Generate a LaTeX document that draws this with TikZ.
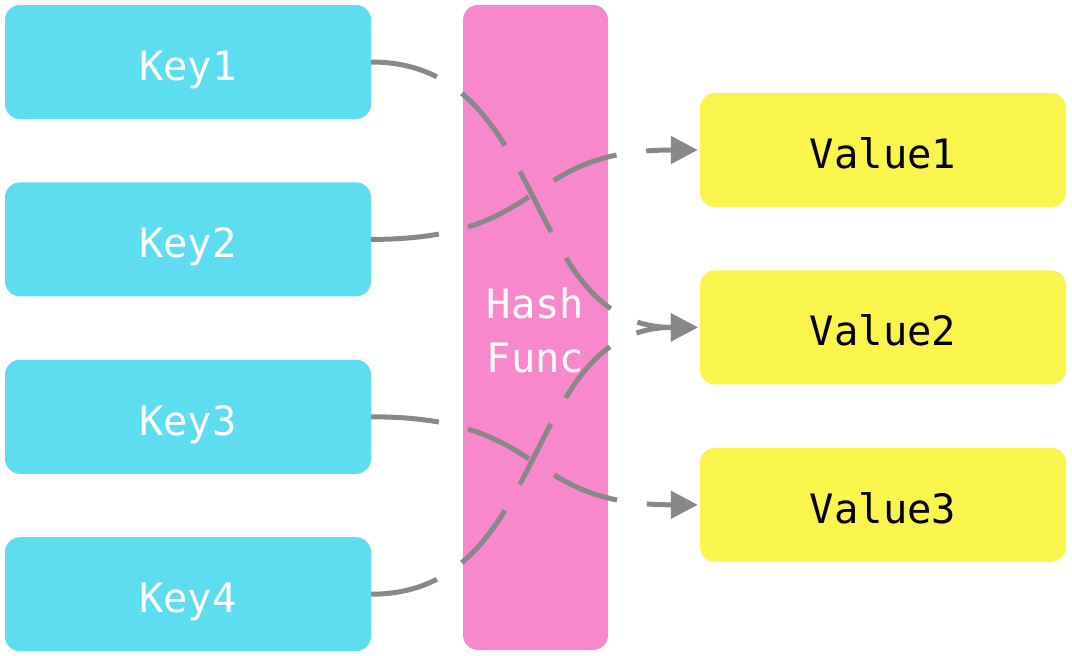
\documentclass[tikz,border=0pt]{standalone}
\usepackage{fontspec}
\setmonofont{DejaVu Sans Mono}
\usetikzlibrary{arrows.meta,positioning}

\definecolor{keycyan}{RGB}{94,220,240}
\definecolor{hashpink}{RGB}{247,136,203}
\definecolor{valyellow}{RGB}{249,245,76}
\definecolor{linkgray}{RGB}{136,136,136}

\begin{document}
\begin{tikzpicture}[x=1pt,y=-1pt,node distance=63pt,
    box/.style={rectangle,rounded corners=15pt,minimum width=366pt,
      minimum height=114pt,inner sep=0pt,text height=36.5pt,text depth=0pt,
      font=\ttfamily\fontsize{40.5}{54}\selectfont},
    key/.style={box,fill=keycyan,text=white},
    val/.style={box,fill=valyellow,text=black},
    hash/.style={box,fill=hashpink,text=white,minimum width=145pt,
      minimum height=645pt,align=center,text height=89pt},
    link/.style={draw=linkgray,line width=5pt,dash pattern=on 68pt off 30pt,
      -{Triangle[length=27pt,width=27pt]},shorten >=2pt,
      to path={.. controls +(180,0) and +(-180,0) .. (\tikztotarget)}}]

  \useasboundingbox (0,0) rectangle (1072,656);

  \node[key] (key1) at (188,62) {Key1};
  \node[key] (key2) [below=of key1] {Key2};
  \node[key] (key3) [below=of key2] {Key3};
  \node[key] (key4) [below=of key3] {Key4};

  \node[hash] (hash) at (535.5,327.5) {Hash\\Func};

  \node[val] (val1) at (883,150) {Value1};
  \node[val] (val2) [below=of val1] {Value2};
  \node[val] (val3) [below=of val2] {Value3};

  \path (key1.east) edge[link] (val2.west)
        (key2.east) edge[link] (val1.west)
        (key3.east) edge[link] (val3.west)
        (key4.east) edge[link] (val2.west);
\end{tikzpicture}
\end{document}
